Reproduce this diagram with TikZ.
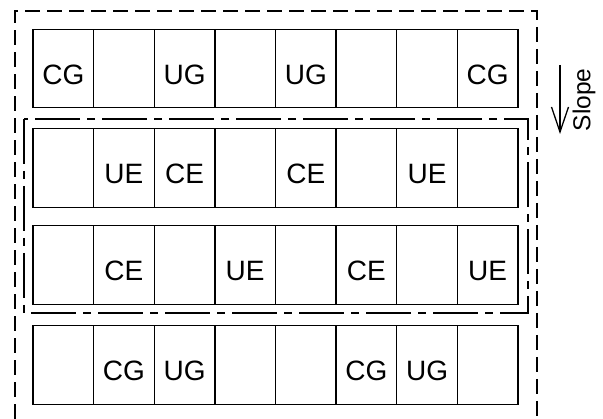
\documentclass[tikz,border=0pt]{standalone}
\usepackage{fontspec}
\setmainfont{Liberation Sans}
\usetikzlibrary{arrows.meta}
\begin{document}
\begin{tikzpicture}[x=1pt,y=-1pt,
  cell/.style={draw, line width=1.3pt, rectangle, inner sep=0pt,
    minimum width=60.625pt, minimum height=78.5pt},
  lab/.style={font=\fontsize{28}{28}\selectfont, inner sep=0pt},
  outerbox/.style={line width=1.2pt, dash pattern=on 15pt off 7pt},
  innerbox/.style={line width=1.2pt, dash pattern=on 45pt off 7pt on 8pt off 7pt},
  slopearrow/.style={line width=1.3pt, -{Straight Barb[length=25pt,width=17pt,line width=1.3pt]}}]
\useasboundingbox (0,0) rectangle (603,419);
% outer dashed boundary (open at the bottom)
\draw[outerbox] (15,419) -- (15,11) -- (537,11) -- (537,419);
% inner dash-dot boundary
\draw[innerbox] (24,119) rectangle (528,313);
% rows of cells
\foreach \r/\y/\labs in {1/68.5/{CG,,UG,,UG,,,CG},
                          2/168/{,UE,CE,,CE,,UE,},
                          3/265/{,CE,,UE,,CE,,UE},
                          4/365/{,CG,UG,,,CG,UG,}}{
  \foreach \t [count=\c] in \labs {
    \node[cell, label={[lab,yshift=-6pt]center:\t}] (c\r-\c) at ({33+60.625*(\c-0.5)},\y) {};
  }
}
% slope arrow
\coordinate (sa) at (560,65);
\coordinate (sb) at (560,134);
\draw[slopearrow] (sa) -- (sb);
\node[rotate=90, font=\fontsize{24.5}{24.5}\selectfont, inner sep=0pt] (slope) at (584,100) {Slope};
\end{tikzpicture}
\end{document}
